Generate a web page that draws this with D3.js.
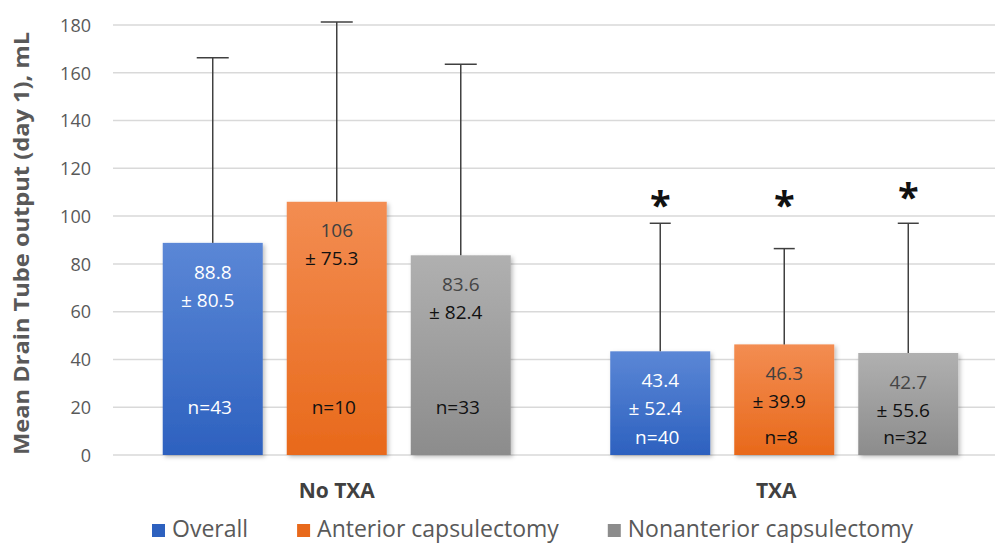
<!DOCTYPE html>
<html><head><meta charset="utf-8">
<script src="https://cdn.jsdelivr.net/npm/d3@7"></script>
<style>body{margin:0;background:#fff}svg{display:block;font-family:"Open Sans",sans-serif}</style>
</head><body><svg id="c" width="995" height="544"></svg>
<script>
const groups = ["No TXA", "TXA"];
const series = ["Overall", "Anterior capsulectomy", "Nonanterior capsulectomy"];
const means = [[88.8, 106, 83.6], [43.4, 46.3, 42.7]];
const sdLabels = [["80.5", "75.3", "82.4"], ["52.4", "39.9", "55.6"]];
const errTop = [[166.3, 181.3, 163.6], [97.0, 86.4, 97.0]];
const nValues = [[43, 10, 33], [40, 8, 32]];
const nLabelLevel = [20, 7.5];
const starLevel = [[null, null, null], [107, 107, 110.5]];
const yTicks = [0, 20, 40, 60, 80, 100, 120, 140, 160, 180];
const yTitle = "Mean Drain Tube output (day 1), mL";

const colors = [["#5b87d6", "#2d61bf"], ["#f38d52", "#e8691b"], ["#b0b0b0", "#8c8c8c"]];
const valueColors = [["#ffffff", "#ffffff", "#ffffff"], ["#404040", "#111111", "#111111"], ["#454545", "#111111", "#111111"]];
const capW = [32, 21];

const svg = d3.select("#c");
const y = d3.scaleLinear().domain([0, 180]).range([455, 25]);
const x0 = d3.scaleBand().domain(groups).range([113, 1008]).padding(0);
const x1 = d3.scaleBand().domain(series).range([0, x0.bandwidth()]).paddingInner(24/124).paddingOuter(0.401);

const defs = svg.append("defs");
colors.forEach((c, i) => {
  const g = defs.append("linearGradient").attr("id", "g" + i).attr("x1", 0).attr("y1", 0).attr("x2", 0).attr("y2", 1);
  g.append("stop").attr("offset", "0%").attr("stop-color", c[0]);
  g.append("stop").attr("offset", "100%").attr("stop-color", c[1]);
});
const f = defs.append("filter").attr("id", "sh").attr("x", "-10%").attr("y", "-10%").attr("width", "130%").attr("height", "130%");
f.append("feDropShadow").attr("dx", 2).attr("dy", 2).attr("stdDeviation", 2).attr("flood-color", "#000").attr("flood-opacity", 0.25);

// grid
svg.append("g").selectAll("line").data(yTicks).join("line")
  .attr("x1", 113).attr("x2", 995).attr("y1", d => y(d)).attr("y2", d => y(d))
  .attr("stroke", "#d9d9d9").attr("stroke-width", 1.5);

// y axis labels
const ya = svg.append("g").attr("transform", "translate(91,0)")
  .call(d3.axisLeft(y).tickValues(yTicks).tickSize(0).tickPadding(0));
ya.select(".domain").remove();
ya.selectAll("text").attr("font-size", 18).attr("fill", "#595959").attr("font-family", "Open Sans").attr("dy", "0.35em");

svg.append("text").attr("transform", "translate(29,243.5) rotate(-90)")
  .attr("text-anchor", "middle").attr("font-size", 22).attr("font-weight", "bold").attr("fill", "#595959")
  .attr("textLength", 423).attr("lengthAdjust", "spacingAndGlyphs")
  .text(yTitle);

// bars
groups.forEach((g, gi) => {
  const gg = svg.append("g");
  series.forEach((s, si) => {
    const bx = x0(g) + x1(s), bw = x1.bandwidth(), cx = bx + bw / 2;
    const m = means[gi][si];
    gg.append("rect").attr("x", bx).attr("y", y(m)).attr("width", bw).attr("height", y(0) - y(m))
      .attr("fill", `url(#g${si})`).attr("filter", "url(#sh)");
    gg.append("line").attr("x1", cx).attr("x2", cx).attr("y1", y(m)).attr("y2", y(errTop[gi][si]))
      .attr("stroke", "#404040").attr("stroke-width", 1.5);
    gg.append("line").attr("x1", cx - capW[gi] / 2).attr("x2", cx + capW[gi] / 2)
      .attr("y1", y(errTop[gi][si])).attr("y2", y(errTop[gi][si]))
      .attr("stroke", "#404040").attr("stroke-width", 1.5);
    gg.append("text").attr("x", cx).attr("y", y(m) + 29).attr("dy", "0.35em").attr("text-anchor", "middle")
      .attr("font-size", 19).attr("fill", valueColors[si][0]).text(m);
    gg.append("text").attr("x", cx - 5).attr("y", y(m) + 57).attr("dy", "0.35em").attr("text-anchor", "middle")
      .attr("font-size", 19).attr("fill", valueColors[si][1]).text("± " + sdLabels[gi][si]);
    gg.append("text").attr("x", cx - 3).attr("y", y(nLabelLevel[gi])).attr("dy", "0.35em").attr("text-anchor", "middle")
      .attr("font-size", 19).attr("fill", valueColors[si][2]).text("n=" + nValues[gi][si]);
    if (starLevel[gi][si] != null) {
      gg.append("text").attr("x", cx).attr("y", y(starLevel[gi][si]) + 20).attr("text-anchor", "middle")
        .attr("font-size", 38).attr("font-weight", "bold").attr("fill", "#111").text("*");
    }
  });
  svg.append("text").attr("x", x0(g) + x0.bandwidth() / 2 - 8 * gi).attr("y", 498).attr("text-anchor", "middle")
    .attr("font-size", 21).attr("font-weight", "bold").attr("fill", "#404040").text(g);
});

// legend
let lx = 152;
const lg = svg.append("g");
series.forEach((s, si) => {
  lg.append("rect").attr("x", lx).attr("y", 524).attr("width", 13).attr("height", 13).attr("fill", colors[si][1]);
  const t = lg.append("text").attr("x", lx + 20).attr("y", 537).attr("font-size", 23).attr("fill", "#595959").text(s);
  lx += 20 + t.node().getComputedTextLength() + 49;
});
</script></body></html>
